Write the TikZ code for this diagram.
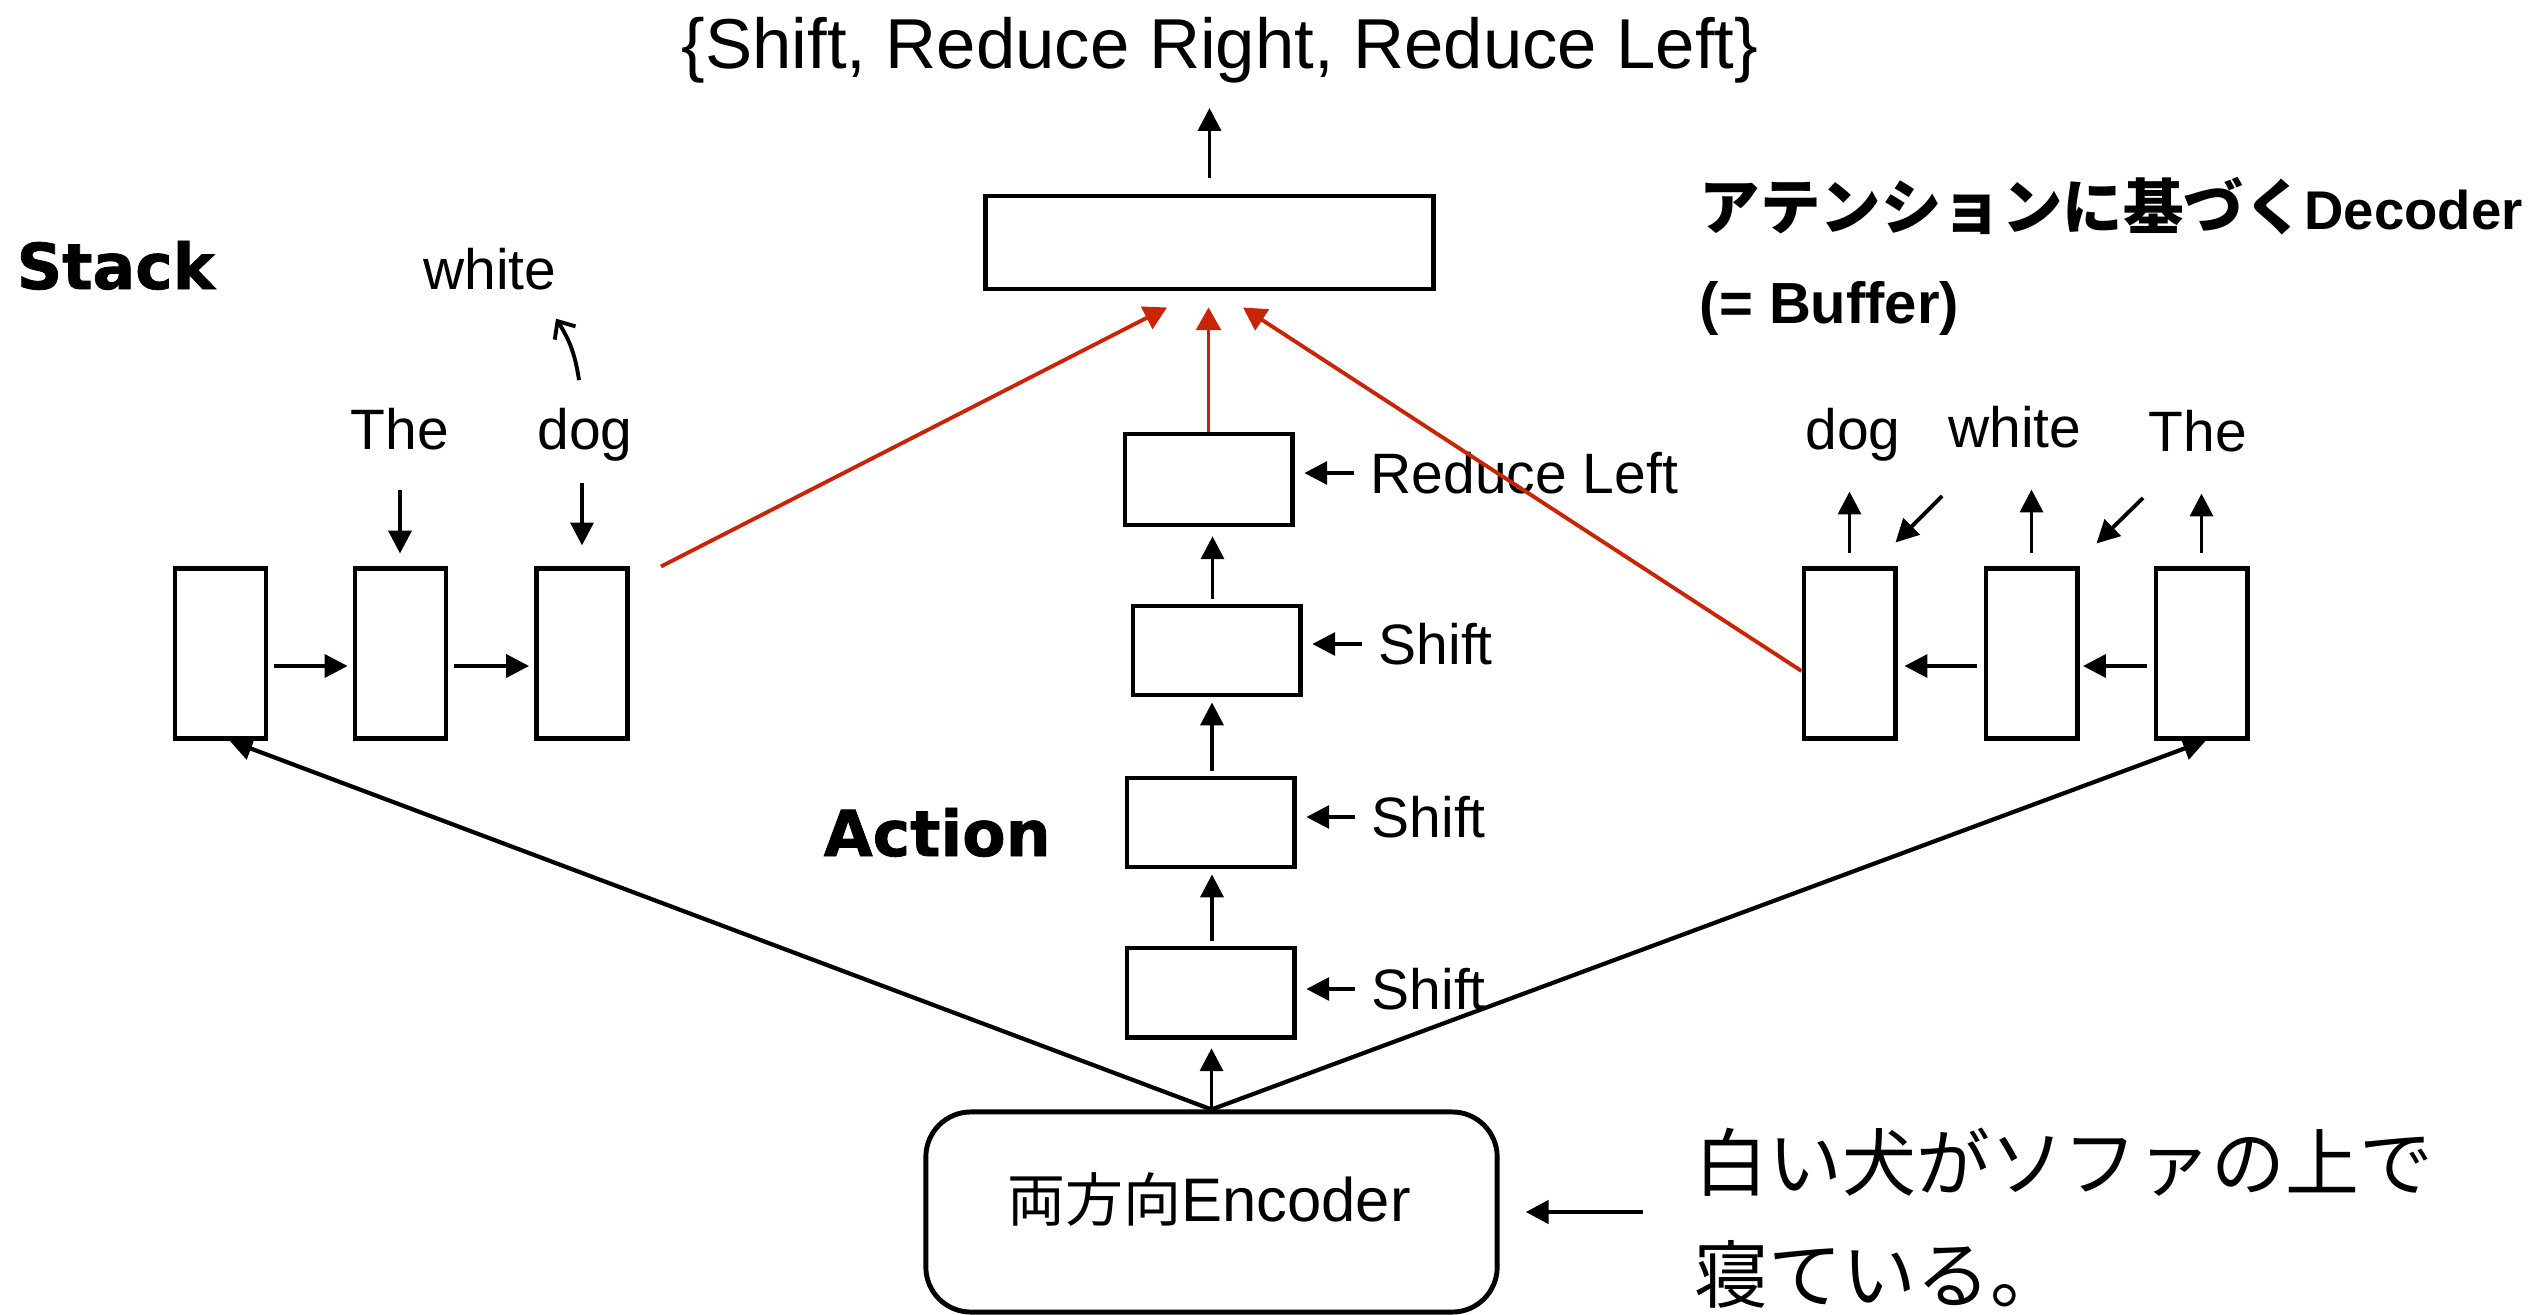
\documentclass[tikz,border=0pt]{standalone}
\usepackage{fontspec}
\setmainfont{Liberation Sans}
\newfontfamily\cjk{Noto Sans CJK JP}
\newfontfamily\heavy[BoldFeatures={FakeBold=1.2}]{DejaVu Sans}
\usetikzlibrary{arrows.meta,calc}
\definecolor{kred}{RGB}{200,37,6}
\begin{document}
\begin{tikzpicture}[x=0.01cm,y=-0.01cm,
  box/.style={draw,line width=1.4pt,inner sep=0pt},
  arr/.style={-{Triangle[length=6.5pt,width=6.5pt]},line width=1.1pt},
  rarr/.style={-{Triangle[length=6.5pt,width=7pt]},line width=1.1pt,draw=kred,color=kred},
  fan/.style={-{Triangle[length=6.5pt,width=6.5pt]},line width=1.2pt},
  oarr/.style={-{Straight Barb[length=4pt,width=7pt]},line width=1.1pt},
  word/.style={inner sep=0pt,font=\fontsize{16.2}{19}\selectfont,text height=11.7pt,text depth=3.4pt},
  lab/.style={inner sep=0pt,font=\fontsize{16.2}{19}\selectfont,text height=11.7pt,text depth=0pt,anchor=west},
  heading/.style={inner sep=0pt,font=\heavy\bfseries\fontsize{18}{21}\selectfont,anchor=base west},
]
\useasboundingbox (0,0) rectangle (2542,1315);

% ---------- top output ----------
\node[inner sep=0pt,font=\fontsize{20.1}{24}\selectfont,anchor=base] (acts) at (1220,68) {\{Shift, Reduce Right, Reduce Left\}};
\node[box,minimum width=4.47cm,minimum height=0.93cm] (top) at (1209.5,242.5) {};
\draw[arr,shorten <=4.5pt,shorten >=7pt] (top.north) -- (top.north |- acts.south);

% ---------- action column ----------
\node[box,minimum width=1.67cm,minimum height=0.91cm] (rl) at (1208.5,479.5) {};
\node[box,minimum width=1.67cm,minimum height=0.89cm] (a1) at (1216.5,650.5) {};
\node[box,minimum width=1.67cm,minimum height=0.89cm] (a2) at (1210.5,822.5) {};
\node[box,minimum width=1.67cm,minimum height=0.89cm] (a3) at (1210.5,992.5) {};

\draw[arr,shorten <=1.4pt,shorten >=2.5pt] ($(a1.north)+(-4,0)$) -- ($(rl.south)+(4,0)$);
\draw[arr,shorten <=1.4pt,shorten >=1.4pt] ($(a2.north)+(1.5,0)$) -- ($(a1.south)+(-4.5,0)$);
\draw[arr,shorten <=1.4pt,shorten >=1.4pt] ($(a3.north)+(1.5,0)$) -- ($(a2.south)+(1.5,0)$);

\node[lab] (lrl) at (1370,473) {Reduce Left};
\node[lab] (ls1) at (1378,644) {Shift};
\node[lab] (ls2) at (1371,817) {Shift};
\node[lab] (ls3) at (1371,989) {Shift};
\draw[arr,shorten <=4.5pt,shorten >=2.8pt] (lrl.west) -- (lrl.west -| rl.east);
\draw[arr,shorten <=4.5pt,shorten >=2.8pt] (ls1.west) -- (ls1.west -| a1.east);
\draw[arr,shorten <=4.5pt,shorten >=2.8pt] (ls2.west) -- (ls2.west -| a2.east);
\draw[arr,shorten <=4.5pt,shorten >=2.8pt] (ls3.west) -- (ls3.west -| a3.east);

\node[heading] (action) at (823,856) {Action};

% ---------- stack ----------
\node[heading] (stack) at (16,289) {Stack};
\node[box,minimum width=0.91cm,minimum height=1.69cm] (st1) at (220.5,653.5) {};
\node[box,minimum width=0.91cm,minimum height=1.69cm] (st2) at (400.5,653.5) {};
\node[box,minimum width=0.91cm,minimum height=1.69cm] (st3) at (582,653.5) {};
\draw[arr,shorten <=1.7pt,shorten >=1.4pt] ($(st1.east)+(0,12.5)$) -- ($(st2.west)+(0,12.5)$);
\draw[arr,shorten <=1.7pt,shorten >=1.4pt] ($(st2.east)+(0,12.5)$) -- ($(st3.west)+(0,12.5)$);

\node[word,anchor=base] (sthe) at (400,449) {The};
\node[word,anchor=base] (sdog) at (585,449) {dog};
\node[word,anchor=base] (swhite) at (490,289) {white};
\draw[arr,shorten <=8pt,shorten >=3.7pt] (sthe.south) -- (sthe.south |- st2.north);
\draw[arr,shorten <=6.2pt,shorten >=6pt] ($(sdog.south)+(-3,0)$) -- (st3.north);
\draw[oarr] ($(sdog.north)+(-6,-27)$) to[bend right=12] ($(swhite.south)+(66,17)$);

% ---------- buffer ----------
\node[inner sep=0pt,anchor=base west] (title1) at (1699,229)
  {{\cjk\bfseries\fontsize{17.2}{21}\selectfont アテンションに基づく}{\bfseries\fontsize{15.5}{19}\selectfont Decoder}};
\node[inner sep=0pt,anchor=base west,font=\bfseries\fontsize{16.5}{20}\selectfont] (title2) at (1699,323) {(= Buffer)};

\node[box,minimum width=0.91cm,minimum height=1.69cm] (b1) at (1849.5,653.5) {};
\node[box,minimum width=0.91cm,minimum height=1.69cm] (b2) at (2031.5,653.5) {};
\node[box,minimum width=0.91cm,minimum height=1.69cm] (b3) at (2201.5,653.5) {};
\draw[arr,shorten <=2pt,shorten >=2pt] ($(b2.west)+(0,12.5)$) -- ($(b1.east)+(0,12.5)$);
\draw[arr,shorten <=2pt,shorten >=1pt] ($(b3.west)+(0,12.5)$) -- ($(b2.east)+(0,12.5)$);

\node[word,anchor=base] (bdog) at (1853,449) {dog};
\node[word,anchor=base] (bwhite) at (2015,447) {white};
\node[word,anchor=base] (bthe) at (2198,451) {The};
\draw[arr,shorten <=3.7pt,shorten >=8.5pt] (b1.north) -- (b1.north |- bdog.south);
\draw[arr,shorten <=3.7pt,shorten >=8.5pt] (b2.north) -- (b2.north |- bwhite.south);
\draw[arr,shorten <=3.7pt,shorten >=8.5pt] (b3.north) -- (b3.north |- bthe.south);
\coordinate (dg1) at (1942,496);
\coordinate (dg2) at (2143,498);
\draw[arr] (dg1) -- ($(b1.north east)+(-2,-24)$);
\draw[arr] (dg2) -- ($(b2.north east)+(17,-23)$);

% ---------- attention (red) ----------
\coordinate (redl) at ($(st3.north east)+(31,0)$);
\draw[rarr] (redl) -- ($(top.south)+(-42.5,16)$);
\draw[rarr,shorten >=4.5pt] (rl.north) -- (rl.north |- top.south);
\draw[rarr] ($(b1.west)+(0,17.5)$) -- ($(top.south)+(33.5,16)$);

% ---------- encoder ----------
\node[draw,line width=1.4pt,rounded corners=12.8pt,minimum width=5.71cm,minimum height=2.0cm,inner sep=0pt] (enc) at (1211.5,1212) {};
\node[inner sep=0pt,anchor=base] (enct) at (1209,1221)
  {{\cjk\fontsize{16.5}{20}\selectfont 両方向}{\fontsize{17.5}{20}\selectfont Encoder}};
\draw[arr,shorten <=0.5pt,shorten >=2.5pt] (enc.north) -- (enc.north |- a3.south);
\draw[fan] (enc.north) -- ($(st1.south)+(9,0)$);
\draw[fan] (enc.north) -- ($(b3.south)+(4.5,0)$);

\node[inner sep=0pt,anchor=base west,font=\cjk\fontsize{21}{25}\selectfont] (sen1) at (1694,1190) {白い犬がソファの上で};
\node[inner sep=0pt,anchor=base west,font=\cjk\fontsize{21}{25}\selectfont] (sen2) at (1694,1302) {寝ている。};
\draw[arr,line width=1.4pt,shorten <=14.5pt,shorten >=7.4pt] (enc.east -| sen1.west) -- (enc.east);
\end{tikzpicture}
\end{document}
